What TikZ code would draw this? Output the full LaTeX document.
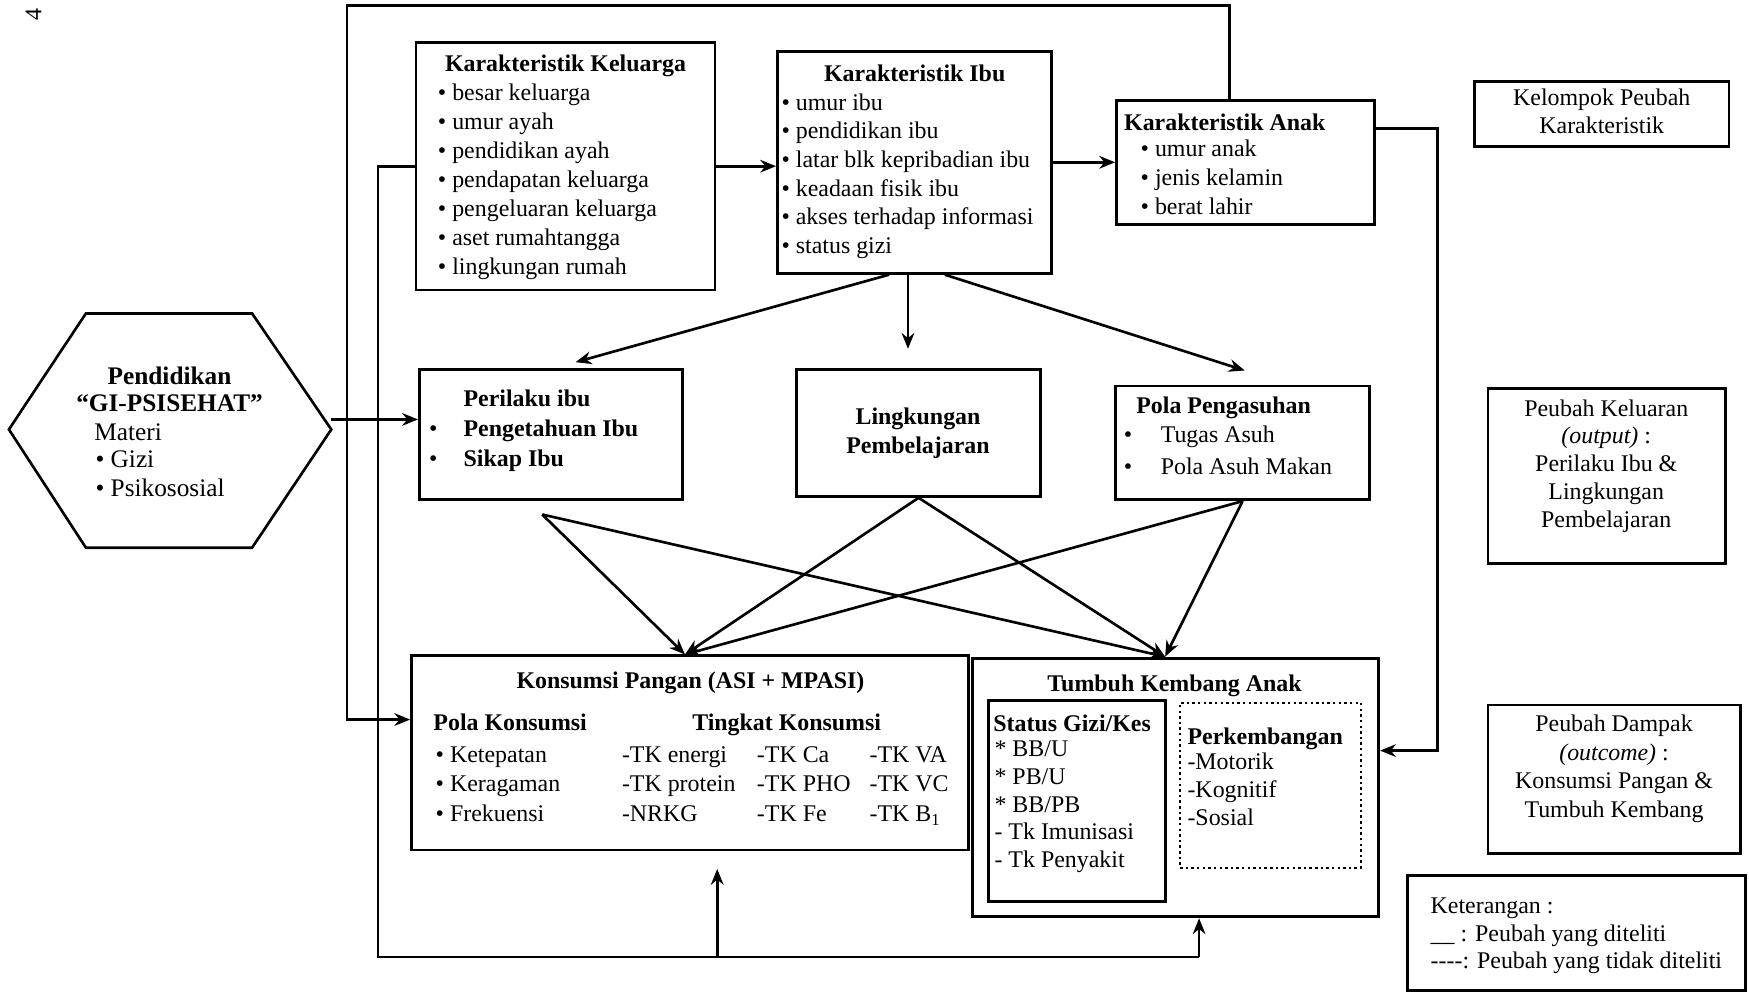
\documentclass[tikz,border=0pt]{standalone}
\usepackage{fontspec}
\setmainfont{Liberation Serif}
\usetikzlibrary{arrows.meta, fit, calc}
\newcommand{\fsz}{\fontsize{6.8}{8.25}\selectfont}
\newcommand{\hsz}{\fontsize{7.2}{8.5}\selectfont}

\begin{document}
\begin{tikzpicture}[x=0.011154cm, y=-0.011154cm,
    box/.style={draw, line width=0.8pt, inner sep=0pt},
    dotbox/.style={draw, line width=0.7pt, dash pattern=on 0.7pt off 0.9pt, inner sep=0pt},
    lbl/.style={font=\fsz, inner sep=0pt, anchor=base west},
    mid/.style={font=\fsz, inner sep=0pt, anchor=base},
    ttl/.style={font=\fsz\bfseries, inner sep=0pt, anchor=base},
    ttll/.style={font=\fsz\bfseries, inner sep=0pt, anchor=base west},
    link/.style={line width=0.75pt},
    arr/.style={link, -{Stealth[length=4.5pt, width=3.6pt]}}]

    \useasboundingbox (0,0) rectangle (1568,890);

    % Page number
    \node[font=\fsz, rotate=90] (pg) at (30,13) {4};

    % Karakteristik Keluarga
    \node[box, fit={(373,38) (641,260)}] (kel) {};
    \node[ttl] (kelT) at (507,64) {Karakteristik Keluarga};
    \foreach \t [count=\i] in {besar keluarga, umur ayah, pendidikan ayah, pendapatan keluarga,
        pengeluaran keluarga, aset rumahtangga, lingkungan rumah}
        \node[lbl] (kel\i) at (392,{64+26*\i}) {\textbullet\ \t};

    % Karakteristik Ibu
    \node[box, fit={(697,46) (943,245)}] (ibu) {};
    \node[ttl] (ibuT) at (820,73) {Karakteristik Ibu};
    \foreach \t [count=\i] in {umur ibu, pendidikan ibu, latar blk kepribadian ibu, keadaan fisik ibu,
        akses terhadap informasi, status gizi}
        \node[lbl] (ibu\i) at (700,{73.4+25.6*\i}) {\textbullet\ \t};

    % Karakteristik Anak
    \node[box, fit={(1001,90) (1232,201)}] (anak) {};
    \node[ttl] (anakT) at (1098,117) {Karakteristik Anak};
    \foreach \t [count=\i] in {umur anak, jenis kelamin, berat lahir}
        \node[lbl] (anak\i) at (1022,{114+26*\i}) {\textbullet\ \t};

    % Kelompok peubah
    \node[box, fit={(1322,73) (1550,131)}] (kelp) {};
    \node[mid] (kelp1) at (1436,95) {Kelompok Peubah};
    \node[mid] (kelp2) at (1436,120) {Karakteristik};

    % Pendidikan GI-PSISEHAT
    \draw[link] (8,385) -- (77,281) -- (226,281) -- (297,385) -- (226,491) -- (77,491) -- cycle;
    \coordinate (hexR) at (297,376);
    \node[font=\hsz\bfseries, inner sep=0pt, anchor=base] (hex1) at (152,345) {Pendidikan};
    \node[font=\hsz\bfseries, inner sep=0pt, anchor=base] (hex2) at (152,369) {``GI-PSISEHAT''};
    \node[font=\hsz, inner sep=0pt, anchor=base west] (hex3) at (84,395) {Materi};
    \node[font=\hsz, inner sep=0pt, anchor=base west] (hex4) at (85,419) {\textbullet\ Gizi};
    \node[font=\hsz, inner sep=0pt, anchor=base west] (hex5) at (85,445) {\textbullet\ Psikososial};

    % Perilaku ibu
    \node[box, fit={(376,331) (612,448)}] (peri) {};
    \node[ttll] (periT) at (415,364) {Perilaku ibu};
    \foreach \t [count=\i] in {Pengetahuan Ibu, Sikap Ibu} {
        \node[lbl] (periB\i) at (384,{364+27*\i}) {\textbullet};
        \node[ttll] (peri\i) at (415,{364+27*\i}) {\t};
    }

    % Lingkungan pembelajaran
    \node[box, fit={(714,331) (933,445)}] (ling) {};
    \node[ttl] (ling1) at (823,381) {Lingkungan};
    \node[ttl] (ling2) at (823,407) {Pembelajaran};

    % Pola pengasuhan
    \node[box, fit={(1000,346) (1228,448)}] (pola) {};
    \node[ttl] (polaT) at (1097,371) {Pola Pengasuhan};
    \foreach \t [count=\i] in {Tugas Asuh, Pola Asuh Makan} {
        \node[lbl] (polaB\i) at (1007,{369+28*\i}) {\textbullet};
        \node[lbl] (pola\i) at (1040,{369+28*\i}) {\t};
    }

    % Peubah keluaran
    \node[box, fit={(1334,348) (1547,505)}] (kelr) {};
    \foreach \t [count=\i] in {Peubah Keluaran, \textit{(output)} :, Perilaku Ibu \&, Lingkungan, Pembelajaran}
        \node[mid] (kelr\i) at (1440,{348+25*\i}) {\t};

    % Konsumsi pangan
    \node[box, fit={(369,588) (868,762)}] (kons) {};
    \node[ttl] (konsT) at (619,617) {Konsumsi Pangan (ASI + MPASI)};
    \node[ttll] (konsP) at (388,655) {Pola Konsumsi};
    \node[ttll] (konsK) at (620,655) {Tingkat Konsumsi};
    \foreach \a/\b/\c/\d [count=\i] in {Ketepatan/-TK energi/-TK Ca/-TK VA,
        Keragaman/-TK protein/-TK PHO/-TK VC, Frekuensi/-NRKG/-TK Fe/-TK B\textsubscript{1}} {
        \node[lbl] (konsA\i) at (390,{657+26.5*\i}) {\textbullet\ \a};
        \node[lbl] (konsB\i) at (557,{657+26.5*\i}) {\b};
        \node[lbl] (konsC\i) at (678,{657+26.5*\i}) {\c};
        \node[lbl] (konsD\i) at (779,{657+26.5*\i}) {\d};
    }

    % Tumbuh kembang anak
    \node[box, fit={(872,590) (1236,822)}] (tumb) {};
    \node[ttl] (tumbT) at (1053,620) {Tumbuh Kembang Anak};
    \node[box, fit={(886,628) (1045,808)}] (stat) {};
    \node[ttll] (statT) at (890,656) {Status Gizi/Kes};
    \foreach \t [count=\i] in {* BB/U, * PB/U, * BB/PB, - Tk Imunisasi, - Tk Penyakit}
        \node[lbl] (stat\i) at (891,{653+25*\i}) {\t};
    \node[dotbox, fit={(1058,630) (1220,778)}] (kemb) {};
    \node[ttll] (kembT) at (1064,667) {Perkembangan};
    \foreach \t [count=\i] in {-Motorik, -Kognitif, -Sosial}
        \node[lbl] (kemb\i) at (1064,{665+25*\i}) {\t};

    % Peubah dampak
    \node[box, fit={(1334,632) (1560,765)}] (damp) {};
    \foreach \t [count=\i] in {Peubah Dampak, \textit{(outcome)} :, Konsumsi Pangan \&, Tumbuh Kembang}
        \node[mid] (damp\i) at (1447,{630+25.7*\i}) {\t};

    % Keterangan
    \node[box, fit={(1262,785) (1565,888)}] (ket) {};
    \node[lbl] (ket1) at (1282,819) {Keterangan :};
    \node[lbl] (ket2) at (1282,844) {\_\_ : Peubah yang diteliti};
    \node[lbl] (ket3) at (1282,868) {{-}{-}{-}{-}: Peubah yang tidak diteliti};

    % Karakteristik arrows
    \draw[arr] (kel.east) -- (kel.east -| ibu.west);
    \draw[arr] (ibu.east) -- (ibu.east -| anak.west);
    \draw[arr] (hexR) -- (hexR -| peri.west);

    % Ibu to outputs
    \draw[arr] ([xshift=-7.3pt]ibu.south) -- ([xshift=7pt, yshift=1.6pt]peri.north);
    \draw[arr] ([xshift=-1.9pt]ibu.south) -- ([xshift=-1.9pt, yshift=5.4pt]ibu.south |- ling.north);
    \draw[arr] ([xshift=8.6pt]ibu.south) -- ([xshift=0.6pt, yshift=4pt]pola.north);

    % Outputs to outcomes
    \coordinate (periS) at ([xshift=-2.5pt, yshift=-3.8pt]peri.south);
    \foreach \s in {periS, ling.south, pola.south} {
        \draw[arr] (\s) -- ([xshift=-1.4pt]kons.north);
        \draw[arr] (\s) -- ([xshift=-3pt]tumb.north);
    }

    % Loop from Karakteristik Anak over the top
    \coordinate (topR) at (1102,5);
    \coordinate (topL) at (311,5);
    \draw[arr] (topR |- anak.north) -- (topR) -- (topL) |- ([yshift=9.5pt]kons.west);

    % Karakteristik Anak to Tumbuh Kembang
    \coordinate (rbus) at (1289,400);
    \draw[arr] ([yshift=9.7pt]anak.east) -| (rbus) |- ([yshift=10.5pt]tumb.east);

    % Karakteristik Keluarga along the bottom
    \coordinate (bus) at (339,858);
    \coordinate (busK) at (643,858);
    \coordinate (busT) at (1075,858);
    \draw[link] (kel.west) -| (bus) -- (busT);
    \draw[arr] (busK) -- ([yshift=-5pt]busK |- kons.south);
    \draw[arr] (busT) -- (busT |- tumb.south);
\end{tikzpicture}
\end{document}
